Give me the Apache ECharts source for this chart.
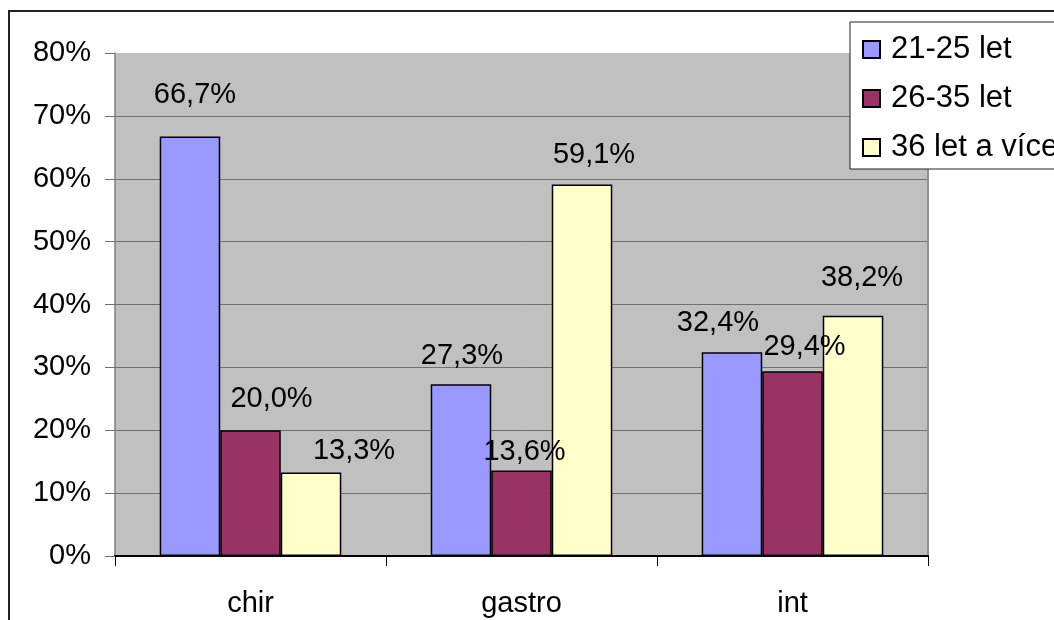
<!DOCTYPE html>
<html>
<head>
<meta charset="utf-8">
<script src="https://cdn.jsdelivr.net/npm/echarts@6/dist/echarts.min.js"></script>
<style>
  html, body { margin: 0; padding: 0; background: #fff; }
  #chart { width: 1054px; height: 620px; }
</style>
</head>
<body>
<div id="chart"></div>
<script>
// Categories and age groups
const categories = ['chir', 'gastro', 'int'];
const seriesNames = ['21-25 let', '26-35 let', '36 let a více'];

// Shares in percent per age group
const age21to25 = [66.7, 27.3, 32.4];
const age26to35 = [20.0, 13.6, 29.4];
const age36plus = [13.3, 59.1, 38.2];

// Y axis ticks
const yTicks = [0, 10, 20, 30, 40, 50, 60, 70, 80];

// Label nudges [dx, dy] per bar, so the value labels sit like the spreadsheet placed them
const labelOffsets = [
  [[5, -28], [1, -14], [-14, -15]],
  [[21, -17], [3, -4], [12, -10]],
  [[43, -7], [12, -15], [9, -24]]
];

const colors = ['#9999ff', '#993366', '#ffffcc'];
const FONT = 'Liberation Sans, Arial, sans-serif';

function fmt(v) {
  return v.toFixed(1).replace('.', ',') + '%';
}

const values = [age21to25, age26to35, age36plus];

const series = values.map((vals, si) => ({
  name: seriesNames[si],
  type: 'bar',
  yAxisIndex: 0,
  barGap: '0%',
  barCategoryGap: '33%',
  itemStyle: { color: colors[si], borderColor: '#000', borderWidth: 1.5 },
  emphasis: { disabled: true },
  data: vals.map((v, ci) => ({
    value: v,
    label: {
      show: true,
      position: 'top',
      distance: 0,
      offset: labelOffsets[si][ci],
      formatter: () => fmt(v),
      fontFamily: FONT,
      fontSize: 29,
      lineHeight: 28,
      color: '#000'
    }
  }))
}));

const gridColors = yTicks.map((t, i) => i === yTicks.length - 1 ? 'rgba(0,0,0,0)' : '#6f6f6f');

const chart = echarts.init(document.getElementById('chart'), null, { renderer: 'canvas' });
chart.setOption({
  animation: false,
  backgroundColor: '#fff',
  textStyle: { fontFamily: FONT },
  graphic: [{
    type: 'rect',
    z: -10,
    shape: { x: 9, y: 11, width: 1200, height: 800 },
    style: { fill: 'none', stroke: '#222', lineWidth: 2 }
  }],
  grid: {
    left: 115, top: 53, right: 126, bottom: 64,
    show: true, backgroundColor: '#c0c0c0', borderWidth: 0
  },
  legend: {
    left: 850, top: 22,
    orient: 'vertical',
    backgroundColor: '#fff',
    borderColor: '#222',
    borderWidth: 1,
    padding: [12, 60, 6, 12],
    itemGap: 18,
    itemWidth: 17,
    itemHeight: 17,
    icon: 'rect',
    selectedMode: false,
    textStyle: { fontFamily: FONT, fontSize: 31, lineHeight: 30, color: '#000', padding: [0, 0, 0, 6] },
    data: seriesNames
  },
  xAxis: {
    type: 'category',
    data: categories,
    axisLine: { lineStyle: { color: '#000', width: 2 } },
    axisTick: { show: true, length: 10, lineStyle: { color: '#000', width: 1 } },
    axisLabel: { fontFamily: FONT, fontSize: 29, color: '#000', margin: 33 },
    splitLine: { show: false }
  },
  yAxis: [{
    type: 'value',
    min: 0, max: 80, interval: 10,
    axisLine: { show: true, lineStyle: { color: '#808080', width: 1.5 } },
    axisTick: { show: true, length: 10, lineStyle: { color: '#6f6f6f' } },
    axisLabel: { fontFamily: FONT, fontSize: 29, color: '#000', margin: 24, formatter: '{value}%' },
    splitLine: { show: true, lineStyle: { color: gridColors, width: 1 } }
  }, {
    type: 'value',
    position: 'right',
    min: 0, max: 80, interval: 10,
    axisLine: { show: true, lineStyle: { color: '#909090', width: 2 } },
    axisTick: { show: false },
    axisLabel: { show: false },
    splitLine: { show: false }
  }],
  series: series
});
</script>
</body>
</html>
